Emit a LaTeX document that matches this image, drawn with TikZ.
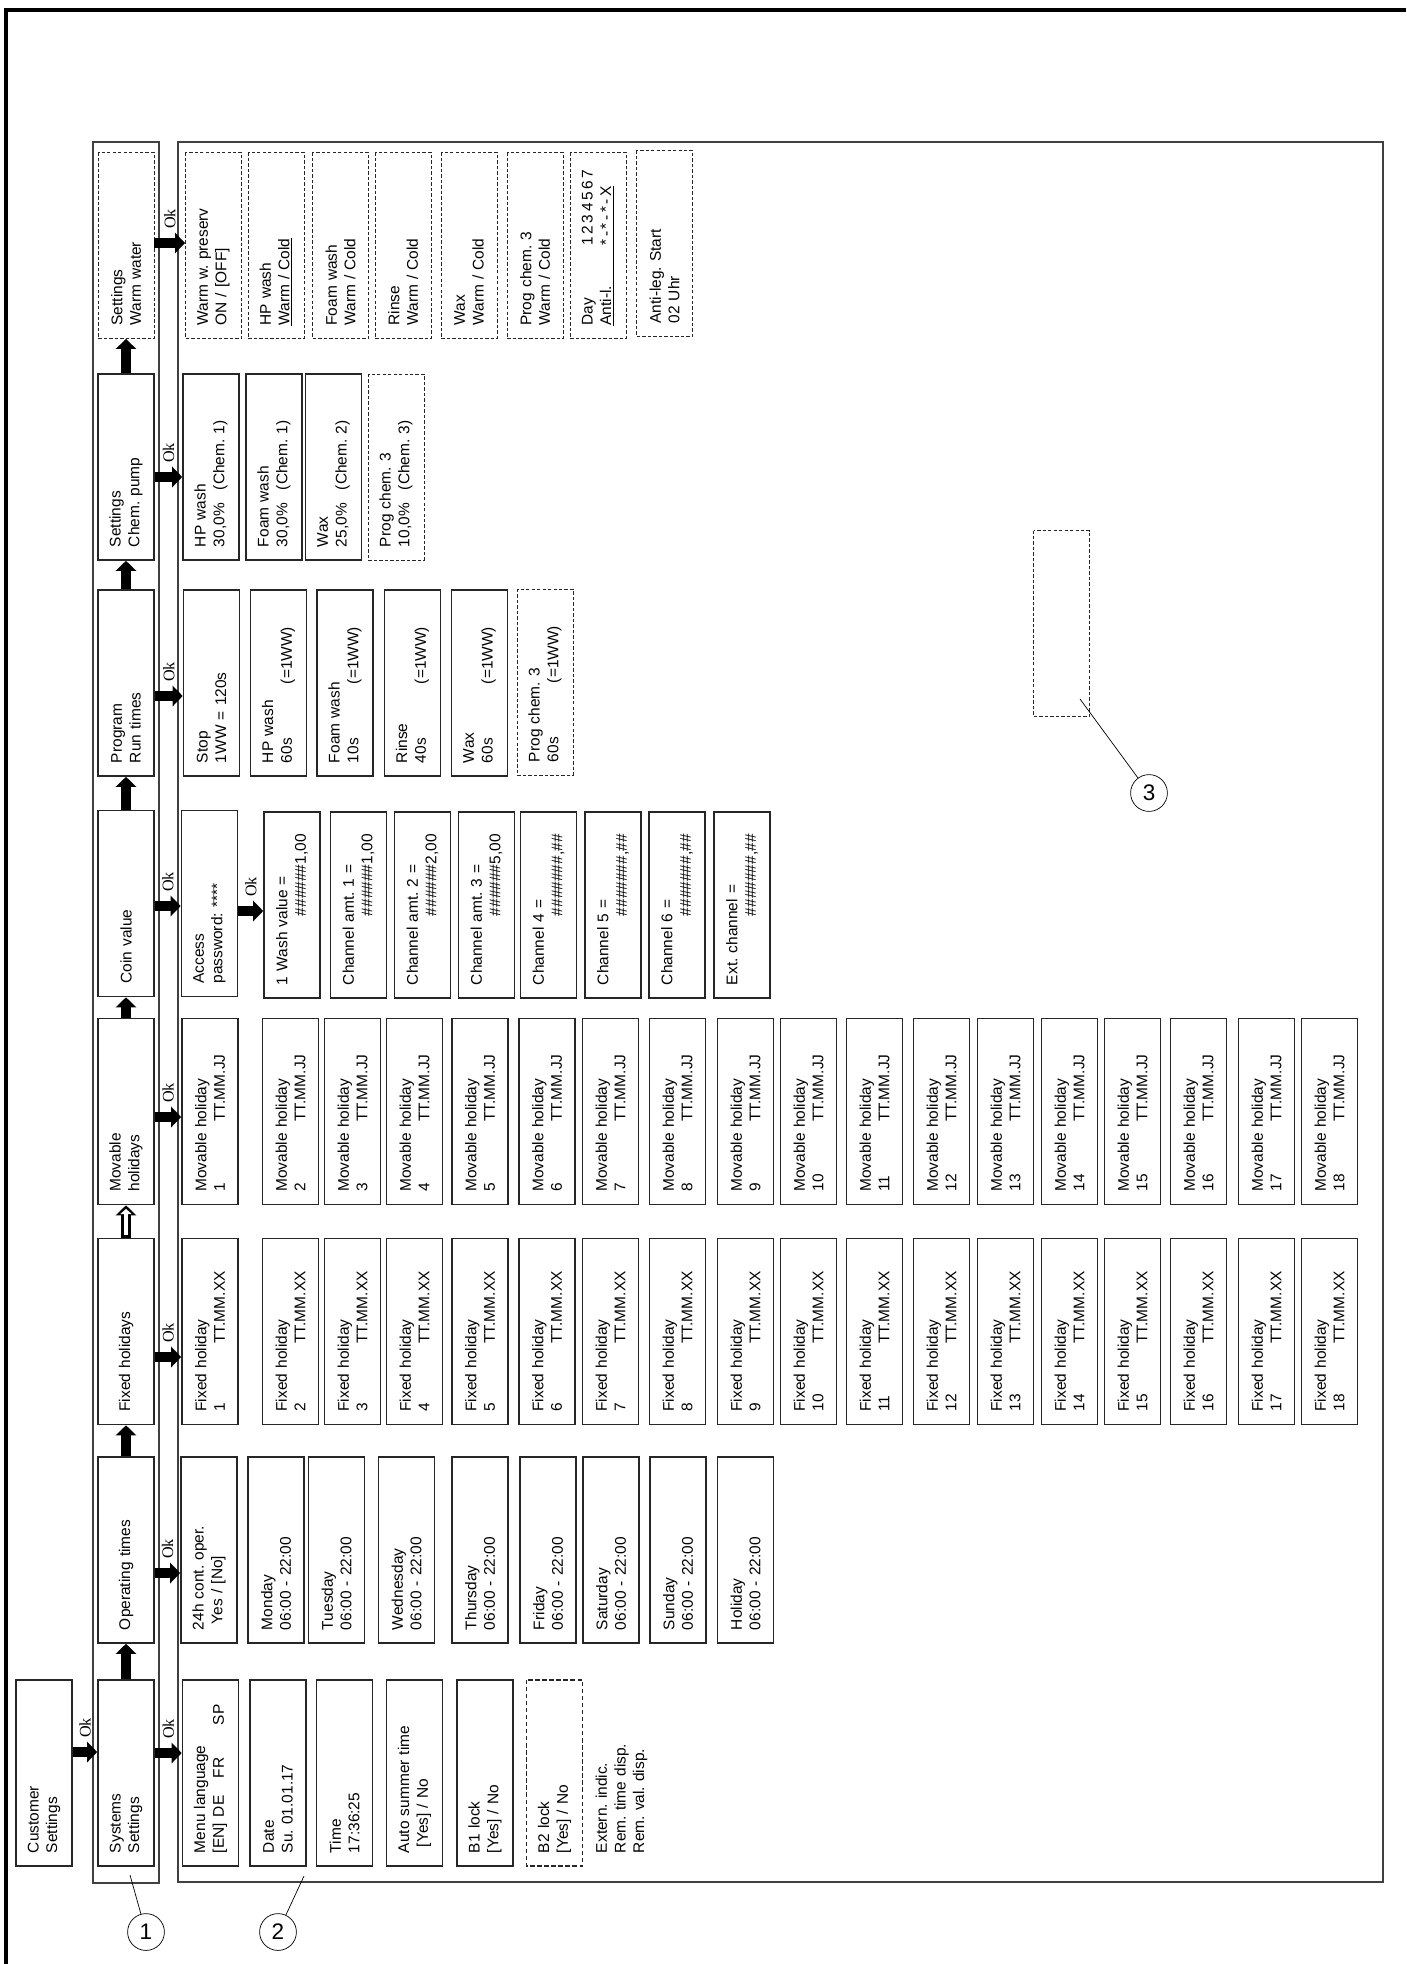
\documentclass[tikz,border=0pt]{standalone}
\usepackage{fontspec}
\setmainfont{Liberation Sans}
\newfontfamily\okfont{Liberation Serif}
\usetikzlibrary{arrows.meta}
\frenchspacing

\tikzset{
    menubox/.style={draw=black!85, line width=1.1pt, rotate=90, minimum height=14mm, text width=40mm, inner xsep=3.25mm, inner ysep=0.5mm, align=left, font=\fontsize{11}{13.2}\selectfont},
    optbox/.style={menubox, line width=0.6pt, dash pattern=on 2.4pt off 1.5pt},
    okarrow/.style={line width=2.3mm, -{Triangle[length=2.5mm, width=5mm]}},
    hollowin/.style={white, line width=1mm, shorten <=0.6mm, shorten >=0.9mm, -{Triangle[length=1.3mm, width=2.8mm]}},
    oklbl/.style={rotate=90, font=\okfont\fontsize{11.5}{12}\selectfont, inner sep=0pt},
    callout/.style={draw, circle, minimum size=9.2mm, inner sep=0pt, line width=0.5pt, font=\fontsize{16}{18}\selectfont},
    leader/.style={line width=0.5pt},
    frameline/.style={draw=black!75, line width=0.35mm}
}

\begin{document}
\begin{tikzpicture}[x=0.25mm, y=-0.25mm]
    \useasboundingbox (0,0) rectangle (1406,1964);
    \draw[line width=0.8mm] (6,1964) -- (6,10) -- (1406,10);

    % frames round the menu row and the entries
    \draw[frameline] (93,142) rectangle (159,1883);
    \draw[frameline] (178,142) rectangle (1383,1882);

    % menu row
    \node[menubox] (cust) at (44,1773) {Customer\\Settings};
    \node[menubox] (sys) at (126,1773) {Systems\\Settings};
    \node[menubox] (opt) at (126,1550) {Operating times};
    \node[menubox] (fixh) at (126,1331.5) {Fixed holidays};
    \node[menubox] (movh) at (126,1111.5) {Movable\\holidays};
    \node[menubox] (coin) at (126,903.5) {Coin value};
    \node[menubox] (prog) at (126,683) {Program\\Run times};
    \node[menubox] (chem) at (126,467) {Settings\\Chem. pump};
    \node[optbox] (warm) at (126,245.5) {Settings\\Warm water};

    \draw[okarrow] (sys.east) -- (opt.west);
    \draw[okarrow] (opt.east) -- (fixh.west);
    \draw[okarrow] (fixh.east) -- (movh.west);
    \draw[hollowin] (fixh.east) -- (movh.west);
    \draw[okarrow] (movh.east) -- (coin.west);
    \draw[okarrow] (coin.east) -- (prog.west);
    \draw[okarrow] (prog.east) -- (chem.west);
    \draw[okarrow] (chem.east) -- (warm.west);

    % systems settings
    \node[menubox] (mlang) at (210.5,1773) {Menu language\\\makebox[9mm][l]{[EN]}\makebox[9.75mm][l]{DE}\makebox[13.25mm][l]{FR}SP};
    \node[menubox] (date) at (278,1773) {Date\\Su. 01.01.17};
    \node[menubox] (time) at (344.5,1773) {Time\\17:36:25};
    \node[menubox] (summer) at (414.5,1773) {Auto summer time\\\hspace*{1.5mm}[Yes] / No};
    \node[menubox] (bone) at (485,1773) {B1 lock\\{}[Yes] / No};
    \node[optbox, line width=1.1pt, dash pattern=on 3pt off 2pt] (btwo) at (554.5,1773) {B2 lock\\{}[Yes] / No};
    \node[menubox, draw=none] (extind) at (621.5,1773) {Extern. indic.\\Rem. time disp.\\Rem. val. disp.};

    % operating times
    \node[menubox] (cont) at (209,1550) {24h cont. oper.\\\hspace*{1.5mm}Yes / [No]};
    \node[menubox] (mon) at (276,1550) {Monday\\06:00 - 22:00};
    \node[menubox] (tue) at (336.5,1550) {Tuesday\\06:00 - 22:00};
    \node[menubox] (wed) at (406.5,1550) {Wednesday\\06:00 - 22:00};
    \node[menubox] (thu) at (480,1550) {Thursday\\06:00 - 22:00};
    \node[menubox] (fri) at (548,1550) {Friday\\06:00 - 22:00};
    \node[menubox] (sat) at (611,1550) {Saturday\\06:00 - 22:00};
    \node[menubox] (sun) at (678,1550) {Sunday\\06:00 - 22:00};
    \node[menubox] (hol) at (745.5,1550) {Holiday\\06:00 - 22:00};

    % fixed holidays
    \node[menubox] (fix1) at (210,1331.5) {Fixed holiday\\\makebox[17mm][l]{1}TT.MM.XX};
    \node[menubox] (fix2) at (290.5,1331.5) {Fixed holiday\\\makebox[17mm][l]{2}TT.MM.XX};
    \node[menubox] (fix3) at (352.5,1331.5) {Fixed holiday\\\makebox[17mm][l]{3}TT.MM.XX};
    \node[menubox] (fix4) at (414.5,1331.5) {Fixed holiday\\\makebox[17mm][l]{4}TT.MM.XX};
    \node[menubox] (fix5) at (480,1331.5) {Fixed holiday\\\makebox[17mm][l]{5}TT.MM.XX};
    \node[menubox] (fix6) at (547,1331.5) {Fixed holiday\\\makebox[17mm][l]{6}TT.MM.XX};
    \node[menubox] (fix7) at (610.5,1331.5) {Fixed holiday\\\makebox[17mm][l]{7}TT.MM.XX};
    \node[menubox] (fix8) at (677.5,1331.5) {Fixed holiday\\\makebox[17mm][l]{8}TT.MM.XX};
    \node[menubox] (fix9) at (745.5,1331.5) {Fixed holiday\\\makebox[17mm][l]{9}TT.MM.XX};
    \node[menubox] (fix10) at (808.5,1331.5) {Fixed holiday\\\makebox[17mm][l]{10}TT.MM.XX};
    \node[menubox] (fix11) at (874.5,1331.5) {Fixed holiday\\\makebox[17mm][l]{11}TT.MM.XX};
    \node[menubox] (fix12) at (941.5,1331.5) {Fixed holiday\\\makebox[17mm][l]{12}TT.MM.XX};
    \node[menubox] (fix13) at (1005.5,1331.5) {Fixed holiday\\\makebox[17mm][l]{13}TT.MM.XX};
    \node[menubox] (fix14) at (1069.5,1331.5) {Fixed holiday\\\makebox[17mm][l]{14}TT.MM.XX};
    \node[menubox] (fix15) at (1132.5,1331.5) {Fixed holiday\\\makebox[17mm][l]{15}TT.MM.XX};
    \node[menubox] (fix16) at (1198.5,1331.5) {Fixed holiday\\\makebox[17mm][l]{16}TT.MM.XX};
    \node[menubox] (fix17) at (1266.5,1331.5) {Fixed holiday\\\makebox[17mm][l]{17}TT.MM.XX};
    \node[menubox] (fix18) at (1329.5,1331.5) {Fixed holiday\\\makebox[17mm][l]{18}TT.MM.XX};

    % movable holidays
    \node[menubox] (mov1) at (210,1111.5) {Movable holiday\\\makebox[17.5mm][l]{1}TT.MM.JJ};
    \node[menubox] (mov2) at (290.5,1111.5) {Movable holiday\\\makebox[17.5mm][l]{2}TT.MM.JJ};
    \node[menubox] (mov3) at (352.5,1111.5) {Movable holiday\\\makebox[17.5mm][l]{3}TT.MM.JJ};
    \node[menubox] (mov4) at (414.5,1111.5) {Movable holiday\\\makebox[17.5mm][l]{4}TT.MM.JJ};
    \node[menubox] (mov5) at (480,1111.5) {Movable holiday\\\makebox[17.5mm][l]{5}TT.MM.JJ};
    \node[menubox] (mov6) at (547,1111.5) {Movable holiday\\\makebox[17.5mm][l]{6}TT.MM.JJ};
    \node[menubox] (mov7) at (610.5,1111.5) {Movable holiday\\\makebox[17.5mm][l]{7}TT.MM.JJ};
    \node[menubox] (mov8) at (677.5,1111.5) {Movable holiday\\\makebox[17.5mm][l]{8}TT.MM.JJ};
    \node[menubox] (mov9) at (745.5,1111.5) {Movable holiday\\\makebox[17.5mm][l]{9}TT.MM.JJ};
    \node[menubox] (mov10) at (808.5,1111.5) {Movable holiday\\\makebox[17.5mm][l]{10}TT.MM.JJ};
    \node[menubox] (mov11) at (874.5,1111.5) {Movable holiday\\\makebox[17.5mm][l]{11}TT.MM.JJ};
    \node[menubox] (mov12) at (941.5,1111.5) {Movable holiday\\\makebox[17.5mm][l]{12}TT.MM.JJ};
    \node[menubox] (mov13) at (1005.5,1111.5) {Movable holiday\\\makebox[17.5mm][l]{13}TT.MM.JJ};
    \node[menubox] (mov14) at (1069.5,1111.5) {Movable holiday\\\makebox[17.5mm][l]{14}TT.MM.JJ};
    \node[menubox] (mov15) at (1132.5,1111.5) {Movable holiday\\\makebox[17.5mm][l]{15}TT.MM.JJ};
    \node[menubox] (mov16) at (1198.5,1111.5) {Movable holiday\\\makebox[17.5mm][l]{16}TT.MM.JJ};
    \node[menubox] (mov17) at (1266.5,1111.5) {Movable holiday\\\makebox[17.5mm][l]{17}TT.MM.JJ};
    \node[menubox] (mov18) at (1329.5,1111.5) {Movable holiday\\\makebox[17.5mm][l]{18}TT.MM.JJ};

    % coin value
    \node[menubox] (pass) at (209.5,903.5) {Access\\password: ****};
    \node[menubox] (wash) at (292,905) {1 Wash value =\\\hspace*{17.25mm}\#\#\#\#\#\#1,00};
    \node[menubox] (amt1) at (358.5,905) {Channel amt. 1 =\\\hspace*{17.25mm}\#\#\#\#\#\#1,00};
    \node[menubox] (amt2) at (422.5,905) {Channel amt. 2 =\\\hspace*{17.25mm}\#\#\#\#\#\#2,00};
    \node[menubox] (amt3) at (486.5,905) {Channel amt. 3 =\\\hspace*{17.25mm}\#\#\#\#\#\#5,00};
    \node[menubox] (chan4) at (548.5,905) {Channel 4 =\\\hspace*{17.25mm}\#\#\#\#\#\#\#,\#\#};
    \node[menubox] (chan5) at (613,905) {Channel 5 =\\\hspace*{17.25mm}\#\#\#\#\#\#\#,\#\#};
    \node[menubox] (chan6) at (677,905) {Channel 6 =\\\hspace*{17.25mm}\#\#\#\#\#\#\#,\#\#};
    \node[menubox] (extch) at (742,905) {Ext. channel =\\\hspace*{17.25mm}\#\#\#\#\#\#\#,\#\#};

    % program run times
    \node[menubox] (stop) at (211.5,683) {Stop\\1WW = 120s};
    \node[menubox] (runhp) at (278.5,683) {HP wash\\\makebox[19.75mm][l]{60s}(=1WW)};
    \node[menubox] (runfoam) at (345,683) {Foam wash\\\makebox[19.75mm][l]{10s}(=1WW)};
    \node[menubox] (runrinse) at (412.5,683) {Rinse\\\makebox[19.75mm][l]{40s}(=1WW)};
    \node[menubox] (runwax) at (479.5,683) {Wax\\\makebox[19.75mm][l]{60s}(=1WW)};
    \node[optbox] (runprog) at (545,682) {Prog chem. 3\\\makebox[19.75mm][l]{60s}(=1WW)};

    % chemical pump
    \node[menubox] (chemhp) at (211,467) {HP wash\\\makebox[14.25mm][l]{30,0\%}(Chem. 1)};
    \node[menubox] (chemfoam) at (274,467) {Foam wash\\\makebox[14.25mm][l]{30,0\%}(Chem. 1)};
    \node[menubox] (chemwax) at (333.5,467) {Wax\\\makebox[14.25mm][l]{25,0\%}(Chem. 2)};
    \node[optbox] (chemprog) at (396,467) {Prog chem. 3\\\makebox[14.25mm][l]{10,0\%}(Chem. 3)};

    % warm water
    \node[optbox] (preserv) at (213.5,245.5) {Warm w. preserv\\ON / [OFF]};
    \node[optbox] (warmhp) at (276,245.5) {HP wash\\\underline{Warm / Cold}};
    \node[optbox] (warmfoam) at (340.5,245.5) {Foam wash\\Warm / Cold};
    \node[optbox] (warmrinse) at (403,245.5) {Rinse\\Warm / Cold};
    \node[optbox] (warmwax) at (469,245.5) {Wax\\Warm / Cold};
    \node[optbox] (warmprog) at (535,245.5) {Prog chem. 3\\Warm / Cold};
    \node[optbox] (antiday) at (598,245.5) {\makebox[20mm][l]{Day}1\,2\,3\,4\,5\,6\,7\\\underline{\makebox[20mm][l]{Anti-l.}*\,-\,*\,-\,*\,-\,X}};
    \node[optbox] (antistart) at (664.5,243.5) {Anti-leg. Start\\02 Uhr};

    \node[optbox] (spare) at (1061.5,623.5) {};

    % Ok steps
    \draw[okarrow] (cust.south |- 0,1752) -- node[yshift=6mm, oklbl] {Ok} (sys.north |- 0,1752);
    \draw[okarrow] (sys.south |- 0,1753) -- node[yshift=6mm, oklbl] {Ok} (mlang.north |- 0,1753);
    \draw[okarrow] (opt.south |- 0,1573) -- node[yshift=6mm, oklbl] {Ok} (cont.north |- 0,1573);
    \draw[okarrow] (fixh.south |- 0,1357) -- node[yshift=6mm, oklbl] {Ok} (fix1.north |- 0,1357);
    \draw[okarrow] (movh.south |- 0,1117) -- node[yshift=6mm, oklbl] {Ok} (mov1.north |- 0,1117);
    \draw[okarrow] (coin.south |- 0,906) -- node[yshift=6mm, oklbl] {Ok} (pass.north |- 0,906);
    \draw[okarrow] (pass.south |- 0,911) -- node[yshift=6mm, oklbl] {Ok} (wash.north |- 0,911);
    \draw[okarrow] (prog.south |- 0,696) -- node[yshift=6mm, oklbl] {Ok} (stop.north |- 0,696);
    \draw[okarrow] (chem.south |- 0,477) -- node[yshift=6mm, oklbl] {Ok} (chemhp.north |- 0,477);
    \draw[okarrow] (warm.south |- 0,243) -- node[yshift=6mm, oklbl] {Ok} (preserv.north |- 0,243);

    % callouts
    \node[callout] (c1) at (146,1932) {1};
    \node[callout] (c2) at (278,1932) {2};
    \node[callout] (c3) at (1149,793) {3};
    \coordinate (l1) at (130,1875);
    \coordinate (l2) at (304,1876);
    \coordinate (l3) at (1080,699);
    \draw[leader] (l1) -- (c1);
    \draw[leader] (l2) -- (c2);
    \draw[leader] (l3) -- (c3);
\end{tikzpicture}
\end{document}
